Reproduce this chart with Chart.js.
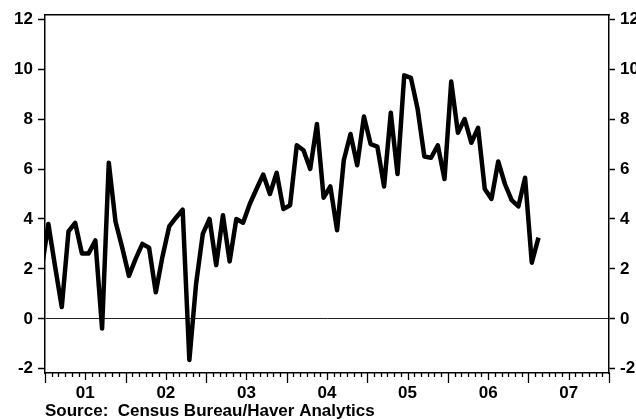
<!DOCTYPE html>
<html>
<head>
<meta charset="utf-8">
<script src="https://cdn.jsdelivr.net/npm/chart.js@4/dist/chart.umd.min.js"></script>
<style>
  html, body { margin: 0; padding: 0; background: #fff; }
</style>
</head>
<body>
<canvas id="chart" width="636" height="419"></canvas>
<script>
// monthly values, first one is Dec 2000 (clipped at the left edge)
const values = [
  2.0,
  3.8, 2.1, 0.47, 3.5, 3.84, 2.62, 2.62, 3.14, -0.39, 6.25, 3.9, 2.85,
  1.72, 2.4, 3.0, 2.85, 1.06, 2.5, 3.7, 4.05, 4.37, -1.65, 1.4, 3.4,
  4.0, 2.15, 4.15, 2.3, 4.0, 3.85, 4.6, 5.2, 5.78, 5.0, 5.85, 4.4,
  4.55, 6.95, 6.75, 6.0, 7.8, 4.85, 5.3, 3.55, 6.35, 7.4, 6.15, 8.1,
  7.0, 6.9, 5.3, 8.25, 5.8, 9.75, 9.65, 8.4, 6.5, 6.45, 6.95, 5.6,
  9.5, 7.45, 8.0, 7.05, 7.65, 5.2, 4.8, 6.3, 5.4, 4.75, 4.5, 5.65,
  2.25, 3.25
];
const yTicks = [-2, 0, 2, 4, 6, 8, 10, 12];
const xTickLabels = ['01', '02', '03', '04', '05', '06', '07'];
const sourceNote = 'Source:  Census Bureau/Haver Analytics';

// x = months since Jan 2001, points sit mid-month
const points = values.map((v, i) => ({ x: i - 0.5, y: v }));
const nMonths = xTickLabels.length * 12;

const labelFont = { family: '"Liberation Sans", Arial, sans-serif', size: 17, weight: 'bold' };

// monthly tick marks below the x axis: long at years, medium mid-year
const monthTicks = {
  id: 'monthTicks',
  afterDraw(chart) {
    const xs = chart.scales.x, ctx = chart.ctx, y0 = chart.chartArea.bottom;
    ctx.save();
    ctx.strokeStyle = '#000';
    ctx.lineWidth = 1.3;
    for (let m = 0; m <= nMonths; m++) {
      const len = m % 12 === 0 ? 10 : (m % 12 === 6 ? 7 : 4);
      const px = Math.round(xs.getPixelForValue(m)) + 0.5;
      ctx.beginPath();
      ctx.moveTo(px, y0);
      ctx.lineTo(px, y0 + len);
      ctx.stroke();
    }
    ctx.restore();
  }
};

new Chart(document.getElementById('chart'), {
  type: 'line',
  data: {
    datasets: [{
      data: points,
      borderColor: '#000',
      borderWidth: 4.5,
      borderJoinStyle: 'round',
      pointRadius: 0,
      tension: 0,
      clip: 0
    }]
  },
  options: {
    responsive: false,
    animation: false,
    devicePixelRatio: 1,
    layout: { padding: { top: 12, left: 0, right: 0, bottom: 0 } },
    plugins: { legend: { display: false }, tooltip: { enabled: false } },
    scales: {
      x: {
        type: 'linear', position: 'bottom', min: 0, max: nMonths,
        afterBuildTicks: s => { s.ticks = xTickLabels.map((_, i) => ({ value: 6 + 12 * i })); },
        afterFit: s => { s.height = 46; },
        grid: { display: false, drawTicks: false },
        border: { display: true, color: '#000', width: 1.5 },
        ticks: {
          padding: 10, color: '#000', font: labelFont, maxRotation: 0, autoSkip: false,
          callback: v => xTickLabels[Math.round((v - 6) / 12)]
        },
        title: {
          display: true, text: sourceNote, align: 'start', color: '#000', padding: 0,
          font: { family: labelFont.family, size: 17, weight: 'bold', lineHeight: 0.85 }
        }
      },
      xTop: {
        type: 'linear', position: 'top', min: 0, max: nMonths,
        afterFit: s => { s.height = 0; },
        grid: { display: false, drawTicks: false },
        ticks: { display: false },
        border: { display: true, color: '#000', width: 1.5 }
      },
      y: {
        type: 'linear', position: 'left', min: -2.17, max: 12.16,
        afterBuildTicks: s => { s.ticks = yTicks.map(v => ({ value: v })); },
        afterFit: s => { s.width = 45; },
        grid: {
          color: c => (c.tick && c.tick.value === 0 ? '#222' : 'rgba(0,0,0,0)'),
          lineWidth: 1, tickColor: '#000', tickLength: 7, tickWidth: 1.5
        },
        border: { display: true, color: '#000', width: 1.5 },
        ticks: { padding: 5, color: '#000', font: labelFont }
      },
      y2: {
        type: 'linear', position: 'right', min: -2.17, max: 12.16,
        afterBuildTicks: s => { s.ticks = yTicks.map(v => ({ value: v })); },
        afterFit: s => { s.width = 27; },
        grid: { drawOnChartArea: false, tickColor: '#000', tickLength: 6, tickWidth: 1.5 },
        border: { display: true, color: '#000', width: 1.5 },
        ticks: { padding: 5, color: '#000', font: labelFont }
      }
    }
  },
  plugins: [monthTicks]
});
</script>
</body>
</html>
